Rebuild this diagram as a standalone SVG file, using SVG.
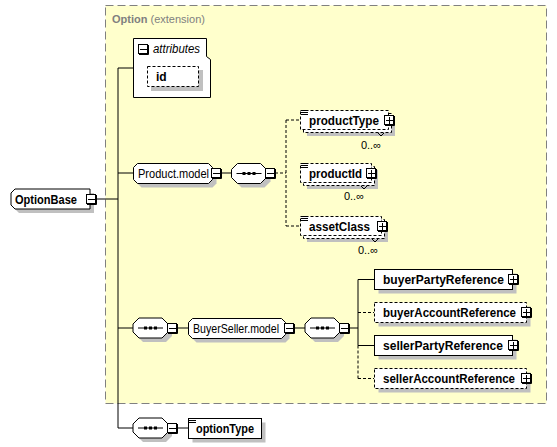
<svg xmlns="http://www.w3.org/2000/svg" width="557" height="447" viewBox="0 0 557 447">
<style>
.sh{fill:#C0C0C0;stroke:none}
.bx{fill:#fff;stroke:#000;stroke-width:1}
.db{fill:#fff;stroke:#000;stroke-width:1;stroke-dasharray:3,2}
.ln{stroke:#000;stroke-width:1;fill:none}
.dl{stroke:#000;stroke-width:1;fill:none;stroke-dasharray:3,2}
.b{font-family:"Liberation Sans",Arial,sans-serif;font-weight:bold;font-size:12px;fill:#000}
.n{font-family:"Liberation Sans",Arial,sans-serif;font-size:12px;fill:#000}
.t{font-family:"Liberation Sans",Arial,sans-serif;font-size:11px;fill:#808080}
.m{font-family:"Liberation Sans",Arial,sans-serif;font-size:11px;fill:#000}
</style>
<defs>
<g id="mn">
<path d="M10.5,1V10.5H1" class="ln"/>
<rect x="0.5" y="0.5" width="9" height="9" class="bx"/>
<path d="M2,5.5H9" class="ln"/>
</g>
<g id="pl">
<path d="M10.5,1V10.5H1" class="ln"/>
<rect x="0.5" y="0.5" width="9" height="9" class="bx"/>
<path d="M2,5.5H9M5.5,2V9" class="ln"/>
</g>
<g id="seq">
<path d="M6,0H29L35,6V14L29,20H6L0,14V6Z" class="sh" transform="translate(4,4)"/>
<path d="M6,0H29L35,6V14L29,20H6L0,14V6Z" class="bx"/>
<path d="M5,10H30" class="ln"/>
<rect x="11" y="8.5" width="3" height="3"/>
<rect x="16" y="8.5" width="3" height="3"/>
<rect x="21" y="8.5" width="3" height="3"/>
</g>
<g id="ic">
<rect x="0" y="0" width="7" height="6" fill="#fff"/>
<path d="M0,0.5H7M0,2.5H7M0,4.5H7" class="ln"/>
</g>
</defs>

<g id="extension">
<rect x="105.5" y="5.5" width="441" height="398" fill="#FFFFCC" stroke="#808080" stroke-dasharray="8,4"/>
<text x="112" y="23" class="t"><tspan font-weight="bold">Option</tspan> (extension)</text>
</g>

<g id="connectors">
<path d="M96,199H118M118,68V428H133M118,68H133M118,173H133M118,328H133" class="ln"/>
<path d="M221,173H232" class="ln"/>
<path d="M275,173H286M286,120V226M286,120H300M286,226H300" class="dl"/>
<path d="M177,328H188M294,328H305M349,328H358M358,279.5V345.5M358,279.5H374M358,345.5H374" class="ln"/>
<path d="M358,345.5V378.5M358,312.5H374M358,378.5H374" class="dl"/>
<path d="M177,428H188" class="ln"/>
</g>

<g id="OptionBase">
<path d="M15,189H90V209H15L11,205V193Z" class="sh" transform="translate(4,4)"/>
<path d="M15,189H90V209H15L11,205V193Z" class="bx"/>
<text x="15" y="203.5" class="b" textLength="62" lengthAdjust="spacingAndGlyphs">OptionBase</text>
<use href="#mn" x="86" y="194"/>
</g>

<g id="attributes">
<path d="M133.5,38.5H206.5V56.5L210.5,59.5V97.5H133.5Z" class="bx"/>
<use href="#mn" x="138" y="44"/>
<text x="153" y="52.5" class="n" font-style="italic" textLength="47" lengthAdjust="spacingAndGlyphs">attributes</text>
</g>

<g id="id">
<rect x="151" y="70" width="52" height="21" class="sh"/>
<rect x="147.5" y="66.5" width="51" height="20" class="db"/>
<text x="156" y="81" class="b">id</text>
</g>

<g id="Product.model">
<path d="M4,0H75L79,4V16L75,20H4L0,16V4Z" class="sh" transform="translate(137.5,167.5)"/>
<path d="M4,0H75L79,4V16L75,20H4L0,16V4Z" class="bx" transform="translate(133.5,163.5)"/>
<text x="138" y="177.5" class="n" textLength="71" lengthAdjust="spacingAndGlyphs">Product.model</text>
<use href="#mn" x="211" y="168"/>
</g>

<g id="seq-product">
<use href="#seq" x="231.5" y="163.5"/>
<use href="#mn" x="265" y="168"/>
</g>

<g id="productType">
<rect x="307" y="117" width="88" height="19" class="sh"/>
<rect x="303.5" y="113.5" width="88" height="19" class="db"/>
<rect x="300.5" y="110.5" width="88" height="19" class="db"/>
<use href="#ic" x="301" y="110"/>
<text x="309" y="124.5" class="b" textLength="70" lengthAdjust="spacingAndGlyphs">productType</text>
<use href="#pl" x="384" y="115"/>
<path d="M378,133L381,136L384,133" class="ln"/>
<text x="381" y="149" class="m" text-anchor="end">0..∞</text>
</g>

<g id="productId">
<rect x="307" y="170" width="71" height="19" class="sh"/>
<rect x="303.5" y="166.5" width="71" height="19" class="db"/>
<rect x="300.5" y="163.5" width="71" height="19" class="db"/>
<use href="#ic" x="301" y="163"/>
<text x="309" y="177.5" class="b" textLength="53" lengthAdjust="spacingAndGlyphs">productId</text>
<use href="#pl" x="366" y="168"/>
<path d="M361,186L364,189L367,186" class="ln"/>
<text x="364" y="200" class="m" text-anchor="end">0..∞</text>
</g>

<g id="assetClass">
<rect x="307" y="223" width="81" height="19" class="sh"/>
<rect x="303.5" y="219.5" width="81" height="19" class="db"/>
<rect x="300.5" y="216.5" width="81" height="19" class="db"/>
<use href="#ic" x="301" y="216"/>
<text x="309" y="230.5" class="b" textLength="61" lengthAdjust="spacingAndGlyphs">assetClass</text>
<use href="#pl" x="377" y="221"/>
<path d="M372,239L375,242L378,239" class="ln"/>
<text x="378" y="254" class="m" text-anchor="end">0..∞</text>
</g>

<g id="seq-buyerseller">
<use href="#seq" x="133" y="318"/>
<use href="#mn" x="167" y="323"/>
</g>

<g id="BuyerSeller.model">
<path d="M4,0H93L97,4V16L93,20H4L0,16V4Z" class="sh" transform="translate(192.5,322.5)"/>
<path d="M4,0H93L97,4V16L93,20H4L0,16V4Z" class="bx" transform="translate(188.5,318.5)"/>
<text x="193" y="332.5" class="n" textLength="86" lengthAdjust="spacingAndGlyphs">BuyerSeller.model</text>
<use href="#mn" x="284" y="323"/>
</g>

<g id="seq-parties">
<use href="#seq" x="305" y="318"/>
<use href="#mn" x="339" y="323"/>
</g>

<g id="buyerPartyReference">
<rect x="378.5" y="273.5" width="138" height="20" class="sh"/>
<rect x="374.5" y="269.5" width="138" height="20" class="bx"/>
<text x="383" y="284" class="b" textLength="121" lengthAdjust="spacingAndGlyphs">buyerPartyReference</text>
<use href="#pl" x="508" y="274"/>
</g>

<g id="buyerAccountReference">
<rect x="378.5" y="306.5" width="152" height="20" class="sh"/>
<rect x="374.5" y="302.5" width="152" height="20" class="db"/>
<text x="383" y="317" class="b" textLength="133" lengthAdjust="spacingAndGlyphs">buyerAccountReference</text>
<use href="#pl" x="521" y="307"/>
</g>

<g id="sellerPartyReference">
<rect x="378.5" y="339.5" width="138" height="20" class="sh"/>
<rect x="374.5" y="335.5" width="138" height="20" class="bx"/>
<text x="383" y="350" class="b" textLength="120" lengthAdjust="spacingAndGlyphs">sellerPartyReference</text>
<use href="#pl" x="508" y="340"/>
</g>

<g id="sellerAccountReference">
<rect x="378.5" y="372.5" width="152" height="20" class="sh"/>
<rect x="374.5" y="368.5" width="152" height="20" class="db"/>
<text x="383" y="383" class="b" textLength="132" lengthAdjust="spacingAndGlyphs">sellerAccountReference</text>
<use href="#pl" x="521" y="373"/>
</g>

<g id="seq-option">
<use href="#seq" x="133" y="418"/>
<use href="#mn" x="167" y="423"/>
</g>

<g id="optionType">
<rect x="192.5" y="422.5" width="73" height="20" class="sh"/>
<rect x="188.5" y="418.5" width="73" height="20" class="bx"/>
<use href="#ic" x="189" y="418"/>
<text x="196" y="432.5" class="b" textLength="58" lengthAdjust="spacingAndGlyphs">optionType</text>
</g>
</svg>
